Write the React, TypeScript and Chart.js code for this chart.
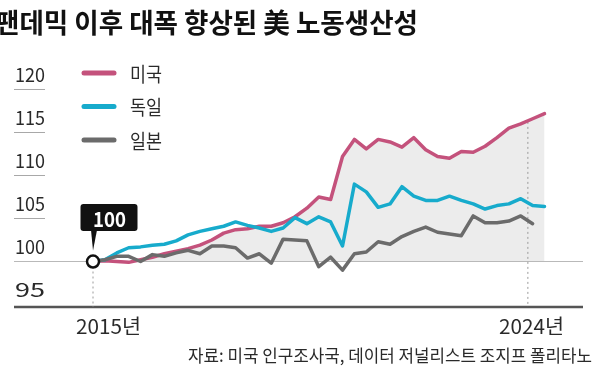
import React, { useEffect, useRef } from 'react';
import Chart from 'chart.js/auto';

const TITLE = '팬데믹 이후 대폭 향상된 美 노동생산성';
const SOURCE = '자료: 미국 인구조사국, 데이터 저널리스트 조지프 폴리타노';
const seriesNames = ['미국', '독일', '일본'];
const seriesColors = ['#c4527c', '#17abcc', '#6b6b6b'];
const xLabels = ['2015년', '2024년'];
const xLabelPos = [1.3, 36.9];
const markerPos = [0, 36.6];
const yTicks = [95, 100, 105, 110, 115, 120];
const baseValue = 100;

// quarterly index, 2015 Q1 = 100
const usValues = [
  100.0, 100.1, 100.0, 99.9, 100.2, 100.5, 100.9, 101.2, 101.5, 101.9,
  102.5, 103.3, 103.7, 103.8, 104.1, 104.1, 104.5, 105.2, 106.2, 107.5,
  107.2, 112.2, 114.2, 113.1, 114.2, 113.9, 113.3, 114.4, 113.0, 112.2,
  112.0, 112.8, 112.7, 113.4, 114.4, 115.5, 116.0, 116.6, 117.2,
];
const germanyValues = [
  100.0, 100.2, 101.0, 101.6, 101.7, 101.9, 102.0, 102.4, 103.1, 103.5,
  103.8, 104.1, 104.6, 104.2, 103.9, 103.5, 103.9, 105.1, 104.4, 105.2,
  104.6, 101.8, 109.0, 108.1, 106.3, 106.7, 108.7, 107.6, 107.1, 107.1,
  107.6, 107.1, 106.7, 106.1, 106.5, 106.7, 107.3, 106.5, 106.4,
];
const japanValues = [
  100.0, 100.2, 100.6, 100.6, 100.0, 100.8, 100.6, 101.0, 101.3, 100.9,
  101.8, 101.8, 101.6, 100.4, 100.9, 99.8, 102.6, 102.5, 102.4, 99.4,
  100.5, 99.0, 100.9, 101.1, 102.3, 102.0, 102.9, 103.5, 104.0, 103.4,
  103.2, 103.0, 105.3, 104.5, 104.5, 104.7, 105.3, 104.4,
];

const toPoints = (arr: number[]) => arr.map((v, i) => ({ x: i, y: v }));

const CJK = '"Noto Sans CJK KR", "Noto Sans", sans-serif';

function fitText(ctx: CanvasRenderingContext2D, text: string, x: number, y: number, width: number, align: 'left' | 'right' | 'center') {
  const w = ctx.measureText(text).width;
  const s = width / w;
  ctx.save();
  let ox = x;
  if (align === 'right') ox = x - width;
  if (align === 'center') ox = x - width / 2;
  ctx.translate(ox, y);
  ctx.scale(s, 1);
  ctx.textAlign = 'left';
  ctx.fillText(text, 0, 0);
  ctx.restore();
}

const decor = {
  id: 'decor',
  beforeDatasetsDraw(chart: any) {
    const { ctx, scales } = chart;
    const x = scales.x;
    const y = scales.y;
    const left = 14;
    const right = 583;
    ctx.save();
    ctx.font = `400 18.5px ${CJK}`;
    ctx.fillStyle = '#2a2a2a';
    ctx.textBaseline = 'alphabetic';
    yTicks.forEach((t) => {
      const py = y.getPixelForValue(t);
      if (t === baseValue) {
        ctx.strokeStyle = '#b9b9b9';
        ctx.lineWidth = 1.2;
        ctx.beginPath();
        ctx.moveTo(left, py);
        ctx.lineTo(right, py);
        ctx.stroke();
      } else if (t !== yTicks[0]) {
        ctx.strokeStyle = '#a8a8a8';
        ctx.lineWidth = 1;
        ctx.beginPath();
        ctx.moveTo(left, py);
        ctx.lineTo(45, py);
        ctx.stroke();
      }
      fitText(ctx, String(t), 15, py - 7.5, 30, 'left');
    });
    const bottom = chart.chartArea.bottom;
    ctx.strokeStyle = '#555';
    ctx.lineWidth = 2.5;
    ctx.beginPath();
    ctx.moveTo(left, bottom);
    ctx.lineTo(right, bottom);
    ctx.stroke();
    ctx.strokeStyle = '#9a9a9a';
    ctx.lineWidth = 1;
    ctx.setLineDash([2, 3]);
    const x0 = x.getPixelForValue(markerPos[0]);
    ctx.beginPath();
    ctx.moveTo(x0, y.getPixelForValue(baseValue));
    ctx.lineTo(x0, bottom);
    ctx.stroke();
    const x1 = x.getPixelForValue(markerPos[1]);
    ctx.beginPath();
    ctx.moveTo(x1, y.getPixelForValue(usValues[usValues.length - 3]) - 2);
    ctx.lineTo(x1, bottom);
    ctx.stroke();
    ctx.setLineDash([]);
    ctx.restore();
  },
  afterDatasetsDraw(chart: any) {
    const { ctx, scales } = chart;
    const x = scales.x;
    const y = scales.y;
    ctx.save();
    const cx = x.getPixelForValue(0);
    const cy = y.getPixelForValue(baseValue);
    ctx.fillStyle = '#111';
    const bx = 80.5, by = 204, bw = 57, bh = 27;
    ctx.beginPath();
    ctx.roundRect(bx, by, bw, bh, 3);
    ctx.fill();
    ctx.beginPath();
    ctx.moveTo(cx - 2, by + bh - 1);
    ctx.lineTo(cx + 4, by + bh - 1);
    ctx.lineTo(cx, cy - 11);
    ctx.closePath();
    ctx.fill();
    ctx.fillStyle = '#fff';
    ctx.font = `700 21px ${CJK}`;
    ctx.textBaseline = 'alphabetic';
    fitText(ctx, String(baseValue), bx + bw / 2 + 0.5, by + 22.5, 33, 'center');
    ctx.beginPath();
    ctx.arc(cx, cy, 6, 0, Math.PI * 2);
    ctx.fillStyle = '#fff';
    ctx.fill();
    ctx.lineWidth = 2.5;
    ctx.strokeStyle = '#111';
    ctx.stroke();
    const legY = [73, 106.5, 140];
    ctx.lineCap = 'round';
    ctx.font = `400 20px ${CJK}`;
    ctx.textBaseline = 'middle';
    seriesNames.forEach((n, i) => {
      ctx.strokeStyle = seriesColors[i];
      ctx.lineWidth = 5;
      ctx.beginPath();
      ctx.moveTo(84, legY[i]);
      ctx.lineTo(114, legY[i]);
      ctx.stroke();
      ctx.fillStyle = '#2a2a2a';
      fitText(ctx, n, 130, legY[i] + 1, 32, 'left');
    });
    ctx.textBaseline = 'alphabetic';
    ctx.font = `400 20px ${CJK}`;
    ctx.fillStyle = '#2a2a2a';
    xLabels.forEach((l, i) => {
      fitText(ctx, l, x.getPixelForValue(xLabelPos[i]), 334, 65, 'center');
    });
    ctx.fillStyle = '#111';
    ctx.font = `700 27px ${CJK}`;
    fitText(ctx, TITLE, -5, 33, 423, 'left');
    ctx.fillStyle = '#2a2a2a';
    ctx.font = `400 17.5px ${CJK}`;
    fitText(ctx, SOURCE, 592, 362, 404, 'right');
    ctx.restore();
  },
};

export default function App() {
  const ref = useRef<HTMLCanvasElement>(null);
  useEffect(() => {
    const canvas = ref.current!;
    const chart = new Chart(canvas, {
      type: 'line',
      data: {
        datasets: [
          {
            label: seriesNames[2],
            data: toPoints(japanValues),
            borderColor: seriesColors[2],
            borderWidth: 3.5,
            pointRadius: 0,
            fill: false,
            order: 1,
          },
          {
            label: seriesNames[1],
            data: toPoints(germanyValues),
            borderColor: seriesColors[1],
            borderWidth: 3.5,
            pointRadius: 0,
            fill: false,
            order: 2,
          },
          {
            label: seriesNames[0],
            data: toPoints(usValues),
            borderColor: seriesColors[0],
            backgroundColor: '#ececec',
            borderWidth: 3.5,
            pointRadius: 0,
            fill: { value: baseValue },
            order: 3,
          },
        ],
      },
      options: {
        animation: false,
        responsive: false,
        devicePixelRatio: 1,
        layout: { padding: { left: 14, right: 20, top: 60, bottom: 75 } },
        elements: { line: { tension: 0, borderJoinStyle: 'round', borderCapStyle: 'round' } },
        scales: {
          x: { type: 'linear', min: -6.65, max: 41.24, display: false },
          y: { type: 'linear', min: 94.71, max: 123.43, display: false },
        },
        plugins: {
          legend: { display: false },
          tooltip: { enabled: false },
          filler: { drawTime: 'beforeDatasetsDraw' },
        },
      } as any,
      plugins: [decor],
    });
    return () => chart.destroy();
  }, []);
  return (
    <div style={{ position: 'fixed', left: 0, top: 0, width: 603, height: 382, background: '#fff' }}>
      <canvas ref={ref} width={603} height={382} style={{ display: 'block', width: 603, height: 382 }} />
    </div>
  );
}
